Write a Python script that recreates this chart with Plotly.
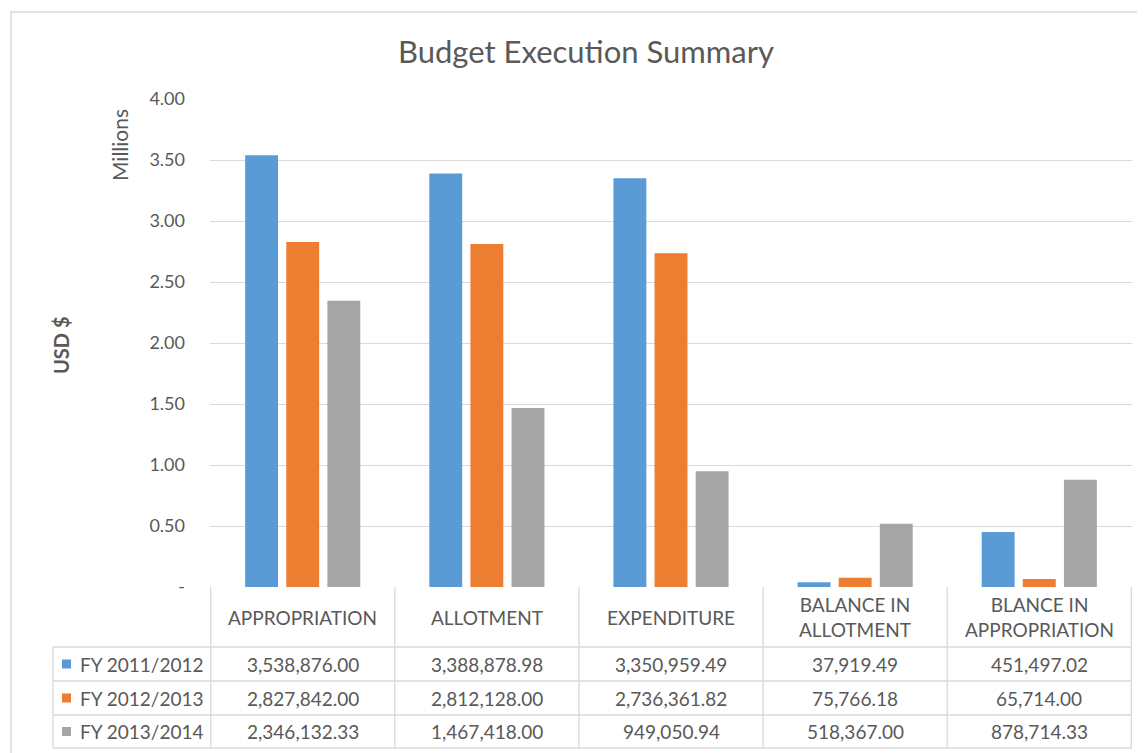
import plotly.graph_objects as go

# data (USD)
categories = ["APPROPRIATION", "ALLOTMENT", "EXPENDITURE", "BALANCE IN ALLOTMENT", "BLANCE IN APPROPRIATION"]
header_labels = ["APPROPRIATION", "ALLOTMENT", "EXPENDITURE", "BALANCE IN<br>ALLOTMENT", "BLANCE IN<br>APPROPRIATION"]
series_names = ["FY 2011/2012", "FY 2012/2013", "FY 2013/2014"]
fy_2011_2012 = [3538876.00, 3388878.98, 3350959.49, 37919.49, 451497.02]
fy_2012_2013 = [2827842.00, 2812128.00, 2736361.82, 75766.18, 65714.00]
fy_2013_2014 = [2346132.33, 1467418.00, 949050.94, 518367.00, 878714.33]
tick_vals = [0, 0.5, 1.0, 1.5, 2.0, 2.5, 3.0, 3.5, 4.0]
tick_text = ["-", "0.50", "1.00", "1.50", "2.00", "2.50", "3.00", "3.50", "4.00"]

colors = ["#5B9BD5", "#ED7D31", "#A5A5A5"]
series_vals = [fy_2011_2012, fy_2012_2013, fy_2013_2014]

# the page body has an 8px margin, so work in page pixels minus 8
OFF = 8
W, H = 1145 - OFF, 753 - OFF
PL, PR, PT, PB = 210 - OFF, 1132 - OFF, 99 - OFF, 587 - OFF  # plot area
FONT = "Lato"
TXT = "#595959"
GRID = "#D9D9D9"


def px_x(px):
    return (px - OFF - PL) / (PR - PL)


def px_y(py):
    return (PB - (py - OFF)) / (PB - PT)


fig = go.Figure()
for name, vals, col in zip(series_names, series_vals, colors):
    fig.add_trace(go.Bar(
        x=categories, y=[v / 1e6 for v in vals], name=name,
        marker=dict(color=col, line=dict(width=0)),
    ))

shapes = []
annotations = []

# outer chart border
shapes.append(dict(type="rect", xref="paper", yref="paper",
                   x0=px_x(11), x1=px_x(1170), y0=px_y(790), y1=px_y(12),
                   line=dict(color=GRID, width=1.5), layer="below"))

# data table grid
row_lines = [647, 681, 715, 748]
for py in row_lines:
    shapes.append(dict(type="line", xref="paper", yref="paper",
                       x0=px_x(53), x1=1, y0=px_y(py), y1=px_y(py),
                       line=dict(color=GRID, width=1.3)))
shapes.append(dict(type="line", xref="paper", yref="paper",
                   x0=px_x(53), x1=px_x(53), y0=px_y(647), y1=px_y(748),
                   line=dict(color=GRID, width=1.3)))
for k in range(len(categories) + 1):
    shapes.append(dict(type="line", xref="x", yref="paper",
                       x0=k - 0.5, x1=k - 0.5, y0=0, y1=px_y(748),
                       line=dict(color=GRID, width=1.3)))

# header cells
for cat, lab in zip(categories, header_labels):
    annotations.append(dict(x=cat, xref="x", y=px_y(617), yref="paper",
                            text=lab, showarrow=False, xanchor="center", yanchor="middle",
                            font=dict(family=FONT, size=19, color=TXT)))

# value rows + legend keys
row_mid = [664, 698, 731.5]
for r, (name, vals, col) in enumerate(zip(series_names, series_vals, colors)):
    ym = row_mid[r]
    shapes.append(dict(type="rect", xref="paper", yref="paper",
                       x0=px_x(62), x1=px_x(71), y0=px_y(ym + 4.5), y1=px_y(ym - 4.5),
                       fillcolor=col, line=dict(width=0)))
    annotations.append(dict(x=px_x(78), xref="paper", y=px_y(ym), yref="paper",
                            text=name, showarrow=False, xanchor="left", yanchor="middle",
                            font=dict(family=FONT, size=19, color=TXT)))
    for cat, v in zip(categories, vals):
        annotations.append(dict(x=cat, xref="x", y=px_y(ym), yref="paper",
                                text=f"{v:,.2f}", showarrow=False, xanchor="center", yanchor="middle",
                                font=dict(family=FONT, size=19, color=TXT)))

# axis titles
annotations.append(dict(x=px_x(119), xref="paper", y=px_y(145), yref="paper",
                        text="Millions", textangle=-90, showarrow=False,
                        xanchor="center", yanchor="middle",
                        font=dict(family=FONT, size=21, color=TXT)))
annotations.append(dict(x=px_x(61), xref="paper", y=px_y(345), yref="paper",
                        text="<b>USD $</b>", textangle=-90, showarrow=False,
                        xanchor="center", yanchor="middle",
                        font=dict(family=FONT, size=20, color=TXT)))

fig.update_layout(
    width=W, height=H,
    margin=dict(l=PL, r=W - PR, t=PT, b=H - PB),
    paper_bgcolor="white", plot_bgcolor="white",
    barmode="group", bargap=0.33, bargroupgap=0.2,
    showlegend=False,
    title=dict(text="Budget Execution Summary", x=(586 - OFF) / W, xref="container", xanchor="center",
               y=1 - (52 - OFF) / H, yref="container", yanchor="middle",
               font=dict(family=FONT, size=31, color=TXT)),
    font=dict(family=FONT, color=TXT),
    shapes=shapes, annotations=annotations,
)
fig.update_xaxes(showticklabels=False, showgrid=False, showline=False, zeroline=False)
fig.update_yaxes(range=[0, 4.0], tickvals=tick_vals, ticktext=tick_text,
                 showgrid=True, gridcolor=GRID, gridwidth=1.3, zeroline=False,
                 showline=False, ticks="", ticklabelstandoff=24,
                 tickfont=dict(family=FONT, size=18, color=TXT))

fig.write_html("out.html")
